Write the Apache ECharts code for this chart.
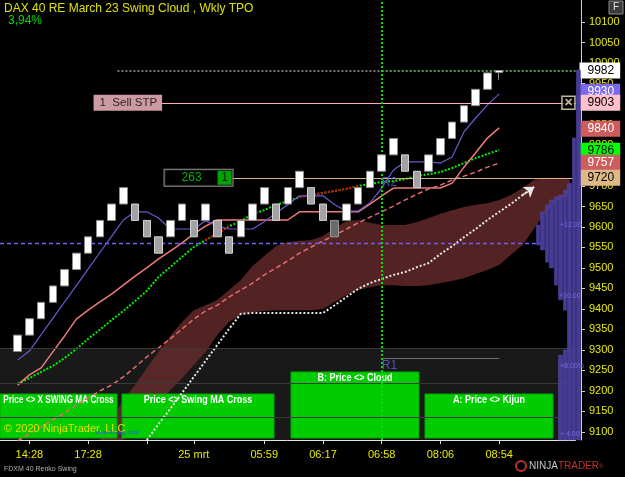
<!DOCTYPE html>
<html><head><meta charset="utf-8">
<script src="https://cdn.jsdelivr.net/npm/echarts@6/dist/echarts.min.js"></script>
<style>html,body{margin:0;padding:0;background:#000;}#c{width:625px;height:477px;}</style>
</head><body><div id="c"></div>
<script>
// ---------- data ----------
const brickOpen  = [9296,9336,9376,9416,9456,9496,9536,9576,9616,9656,9656,9616,9576,9576,9616,9616,9616,9616,9576,9576,9616,9656,9656,9656,9696,9696,9656,9616,9616,9656,9696,9736,9776,9776,9736,9736,9776,9816,9856,9896,9936];
const brickClose = [9336,9376,9416,9456,9496,9536,9576,9616,9656,9696,9616,9576,9536,9616,9656,9576,9656,9576,9536,9616,9656,9696,9616,9696,9736,9656,9616,9576,9656,9696,9736,9776,9816,9736,9696,9776,9816,9856,9896,9936,9976];
const currentBar = [9977, 9982, 9959, 9983]; // open, close, low, high
const tickBars   = [1, 6, 11, 15, 21, 26, 31, 36, 41];
const timeLabels = ['14:28', '17:28', '', '25 mrt', '05:59', '06:17', '06:58', '08:06', '08:54'];
const yTicks = [9100,9150,9200,9250,9300,9350,9400,9450,9500,9550,9600,9650,9700,9750,9800,9850,9900,9950,10000,10050,10100];

const kijunLine = [9275,9297,9337,9377,9417,9457,9497,9537,9577,9617,9637,9637,9622,9595,9595,9595,9615,9602,9595,9595,9595,9613,9634,9654,9676,9676,9676,9654,9639,9639,9659,9695,9739,9759,9759,9759,9756,9771,9832,9866,9898,9925];
const swingMA   = [9214,9239,9256,9295,9334,9375,9397,9417,9436,9458,9480,9500,9522,9541,9561,9583,9602,9617,9617,9617,9617,9617,9617,9617,9637,9637,9637,9637,9637,9637,9656,9676,9695,9695,9695,9695,9695,9707,9746,9781,9817,9842];
const swingDots = [9217,9231,9246,9261,9280,9302,9327,9349,9373,9395,9419,9444,9478,9502,9527,9551,9568,9583,9602,9614,9632,9641,9654,9663,9673,9678,9683,9688,9693,9700,9705,9710,9712,9717,9724,9729,9734,9744,9756,9768,9778,9788];
const redDotBars = [16,17,18,24,25,26,27,28,29];
const dashedMA  = [9078,9095,9112,9129,9146,9165,9182,9200,9214,9234,9258,9283,9305,9327,9351,9375,9395,9409,9429,9446,9463,9483,9500,9517,9536,9551,9566,9580,9595,9610,9624,9637,9651,9666,9680,9693,9702,9715,9724,9734,9746,9756];
const laggingStart = 11;
const laggingLine = [9080,9119,9156,9195,9234,9273,9312,9351,9388,9390,9390,9390,9390,9390,9390,9390,9409,9429,9449,9463,9473,9483,9490,9502,9512,9534,9553,9575,9595,9617,9637,9656,9678,9698];
const cloudStart = 7;
const cloudUpper = [9080,9129,9178,9214,9256,9295,9334,9368,9397,9409,9422,9446,9470,9505,9529,9553,9563,9566,9568,9578,9597,9614,9617,9610,9605,9605,9605,9612,9622,9632,9641,9649,9654,9658,9666,9678,9695,9715,9720,9720,9720];
const cloudLower = [9080,9080,9080,9104,9129,9165,9202,9231,9263,9295,9336,9368,9385,9392,9395,9397,9397,9397,9397,9400,9417,9434,9446,9453,9458,9458,9456,9456,9458,9463,9468,9475,9485,9495,9507,9532,9556,9597,9637,9666,9678];

const priceTags = [9930, 9982, 9903, 9840, 9786, 9757, 9720];
const lastPrice = 9982, sellStop = 9903, entryLevel = 9720, pocLevel = 9561, r1Level = 9280, r2Label = 9707, r1Label = 9261;
const bandLevels = [9304, 9219, 9136];
const tpoLow   = [9556,9544,9514,9500,9458,9422,9397,9080,9080,9080];
const tpoHigh  = [9605,9637,9654,9666,9673,9678,9690,9707,9817,9983];
const tpoLow2  = ['-','-','-','-','-',9080,9080,'-','-','-'];
const tpoHigh2 = ['-','-','-','-','-',9287,9300,'-','-','-'];

// ---------- styles / layout ----------
const yMin = 9080, yMax = 10154;
const nCats = 49;
const tagStyles = {
  9930: ['#7b68ee', '#ffffff'], 9982: ['#ffffff', '#000000'], 9903: ['#ffc0cb', '#000000'],
  9840: ['#cd5c5c', '#ffffff'], 9786: ['#00ff00', '#000000'], 9757: ['#cd5c5c', '#ffffff'], 9720: ['#deb887', '#000000']
};
const YEL = '#e8e800';
const FONT = 'Liberation Sans, Arial, sans-serif';

const cats = Array.from({length: nCats}, (_, k) => 'b' + (k - 1));
const labelAt = {}; tickBars.forEach((b, j) => { labelAt[b + 1] = timeLabels[j]; });

function place(arr, start) {
  const out = new Array(nCats).fill('-');
  arr.forEach((v, j) => { out[start + j + 1] = v; });
  return out;
}
const candleData = [['-','-','-','-']].concat(brickOpen.map((o, i) => {
  const c = brickClose[i];
  const item = { value: [o, c, Math.min(o, c), Math.max(o, c)] };
  if (i === 27) item.itemStyle = { color0: '#6a6a6a', borderColor0: '#9a9a9a' };
  return item;
})).concat([currentBar]);

const cloudDiff = cloudUpper.map((u, j) => u - cloudLower[j]);
const redDots = place(swingDots.map((v, i) => redDotBars.indexOf(i) >= 0 ? v : '-'), 0);
const lagK = laggingStart + laggingLine.length; // k index of last point
const centered = { align: 'center', verticalAlign: 'middle', textAlign: 'center', textVerticalAlign: 'middle' };
function panelText(text, x, y, sx) {
  return { type: 'text', x: x, y: y, scaleX: sx, z: 1.6,
    style: Object.assign({ text: text, fill: '#fff', font: 'bold 10px ' + FONT }, centered) };
}

const chart = echarts.init(document.getElementById('c'), null, {width: 625, height: 477});
const option = {
  backgroundColor: '#000',
  animation: false,
  textStyle: { fontFamily: FONT },
  grid: [
    { left: -2.7, right: 49.5, top: 0, bottom: 37 },
    { left: 535.5, right: 44, top: 0, bottom: 37 }
  ],
  xAxis: [
    { type: 'category', gridIndex: 0, data: cats, boundaryGap: true,
      axisLine: { onZero: false, lineStyle: { color: '#e6e6e6', width: 1 } },
      axisTick: { show: true, alignWithLabel: true, length: 4, interval: (idx) => labelAt[idx] !== undefined, lineStyle: { color: '#e6e6e6' } },
      axisLabel: { interval: 0, color: YEL, fontSize: 11, margin: 9, formatter: (v, idx) => labelAt[idx] || '' },
      splitLine: { show: false } },
    { type: 'value', gridIndex: 0, min: -1.5, max: 47.5, show: false, axisLine: { onZero: false } },
    { type: 'category', gridIndex: 1, data: ['t0','t1','t2','t3','t4','t5','t6','t7','t8','t9'], show: false }
  ],
  yAxis: [
    { type: 'value', gridIndex: 0, position: 'right', offset: 5.5, min: yMin, max: yMax,
      axisLine: { show: true, onZero: false, lineStyle: { color: '#d8d0c0' } },
      axisTick: { show: true, customValues: yTicks, length: 4, lineStyle: { color: '#d8d0c0' } },
      axisLabel: { customValues: yTicks, color: YEL, fontSize: 11, margin: 8, formatter: (v) => String(v) },
      splitLine: { show: false } },
    { type: 'value', gridIndex: 1, min: yMin, max: yMax, show: false, axisLine: { onZero: false } }
  ],
  series: [
    // background bands
    { type: 'line', xAxisIndex: 1, yAxisIndex: 0, data: [], z: 0,
      markArea: { silent: true, itemStyle: { color: '#191919' }, data: [[{ yAxis: bandLevels[0] }, { yAxis: yMin }]] },
      markLine: { silent: true, symbol: 'none', label: { show: false }, lineStyle: { color: '#3a3a3a', width: 1, type: 'solid' },
        data: bandLevels.map(v => ({ yAxis: v })) } },
    // cloud
    { type: 'line', xAxisIndex: 0, yAxisIndex: 0, data: place(cloudLower, cloudStart), stack: 'cloud', symbol: 'none', lineStyle: { opacity: 0 }, z: 1 },
    { type: 'line', xAxisIndex: 0, yAxisIndex: 0, data: place(cloudDiff, cloudStart), stack: 'cloud', symbol: 'none', lineStyle: { opacity: 0 },
      areaStyle: { color: 'rgba(104,44,44,0.8)', opacity: 1 }, z: 1 },
    // horizontal / vertical level lines
    { type: 'line', xAxisIndex: 1, yAxisIndex: 0, data: [], z: 2,
      markLine: { silent: true, symbol: 'none', label: { show: false },
        data: [
          [{ coord: [-1.5, pocLevel], lineStyle: { color: '#6f5ff0', width: 1.3, type: [4, 3] } }, { coord: [45, pocLevel] }],
          [{ coord: [8.5, lastPrice], lineStyle: { color: '#9a9a9a', width: 1.5, type: [2, 2] } }, { coord: [31, lastPrice] }],
          [{ coord: [31, lastPrice], lineStyle: { color: '#7ad07a', width: 1.5, type: [2, 2] } }, { coord: [47.5, lastPrice] }],
          [{ coord: [12.3, sellStop], lineStyle: { color: '#ffb0bc', width: 1.2, type: 'solid' } }, { coord: [47.5, sellStop] }],
          [{ coord: [18.3, entryLevel], lineStyle: { color: '#d2b48c', width: 1.2, type: 'solid' } }, { coord: [47.5, entryLevel] }],
          [{ coord: [31, r1Level], lineStyle: { color: '#6e6e6e', width: 1, type: 'solid' } }, { coord: [41, r1Level] }],
          { xAxis: 31, lineStyle: { color: '#00e000', width: 2, type: [2, 2] } }
        ] } },
    // indicator lines
    { name: 'Swing dots', type: 'line', xAxisIndex: 0, yAxisIndex: 0, data: place(swingDots, 0), symbol: 'none',
      lineStyle: { color: '#00f000', width: 2, type: [2, 1.6] }, z: 3 },
    { name: 'Swing dots red', type: 'line', xAxisIndex: 0, yAxisIndex: 0, data: redDots, symbol: 'none',
      lineStyle: { color: '#e00000', width: 2, type: [2, 1.6] }, z: 3 },
    { name: 'Dashed MA', type: 'line', xAxisIndex: 0, yAxisIndex: 0, data: place(dashedMA, 0), symbol: 'none',
      lineStyle: { color: '#e36c6c', width: 1.5, type: [5, 3] }, z: 3 },
    { name: 'Swing MA', type: 'line', xAxisIndex: 0, yAxisIndex: 0, data: place(swingMA, 0), symbol: 'none',
      lineStyle: { color: '#f07a7a', width: 1.5 }, z: 3 },
    { name: 'Kijun', type: 'line', xAxisIndex: 0, yAxisIndex: 0, data: place(kijunLine, 0), symbol: 'none',
      lineStyle: { color: '#6a5acd', width: 1.2 }, z: 3 },
    { name: 'Lagging', type: 'line', xAxisIndex: 0, yAxisIndex: 0, data: place(laggingLine, laggingStart), symbol: 'none',
      lineStyle: { color: '#e8e8e8', width: 2, type: [2, 2] }, z: 3,
      markLine: { silent: true, symbol: ['none', 'arrow'], symbolSize: 10, label: { show: false },
        lineStyle: { color: '#e8e8e8', width: 2, type: [2, 2] },
        data: [[{ coord: [lagK - 1, laggingLine[laggingLine.length - 2]] }, { coord: [lagK, laggingLine[laggingLine.length - 1]] }]] } },
    // renko bricks
    { name: 'Renko', type: 'candlestick', xAxisIndex: 0, yAxisIndex: 0, data: candleData, barWidth: 8, z: 5,
      itemStyle: { color: '#ffffff', color0: '#a2a2a2', borderColor: '#8a8a8a', borderColor0: '#d4d4d4', borderWidth: 1 } },
    // annotations
    { type: 'scatter', xAxisIndex: 1, yAxisIndex: 0, symbolSize: 0, z: 8, silent: true,
      data: [
        { value: [12.3, sellStop], label: { show: true, position: 'left', distance: 0, formatter: '1  Sell STP',
          backgroundColor: '#ffc0cb', color: '#000', padding: [2, 5, 2, 6], fontSize: 11.5 } },
        { value: [18.3, entryLevel], label: { show: true, position: 'left', distance: 0, formatter: '{a|263}{b|1}',
          backgroundColor: '#000', borderColor: '#b8b8b8', borderWidth: 1, padding: [1, 1, 1, 1],
          rich: { a: { width: 52, height: 14, align: 'center', color: '#00e000', fontSize: 12 },
                  b: { width: 14, height: 14, align: 'center', color: '#000', backgroundColor: '#00cc00', fontSize: 12 } } } },
        { value: [31, r2Label], label: { show: true, position: 'right', distance: 0, formatter: 'R2', color: '#6060e0', fontSize: 12 } },
        { value: [31, r1Label], label: { show: true, position: 'right', distance: 0, formatter: 'R1', color: '#6060e0', fontSize: 12 } }
      ] },
    { type: 'scatter', xAxisIndex: 1, yAxisIndex: 0, z: 8, silent: true, symbol: 'rect', symbolSize: 13,
      itemStyle: { color: '#000', borderColor: '#f2e6c4', borderWidth: 1.5 },
      label: { show: true, position: 'inside', formatter: '✕', color: '#f2e6c4', fontSize: 11, fontWeight: 'bold' },
      data: [[46.9, sellStop]] },
    // TPO profile
    { type: 'candlestick', xAxisIndex: 2, yAxisIndex: 1, barWidth: 4, z: 6,
      itemStyle: { color: '#463c96', color0: '#463c96', borderColor: '#5448b0', borderColor0: '#5448b0', borderWidth: 0.5 },
      data: tpoLow.map((lo, j) => [lo, tpoHigh[j], lo, tpoHigh[j]]) },
    { type: 'candlestick', xAxisIndex: 2, yAxisIndex: 1, barWidth: 4, z: 6,
      itemStyle: { color: '#463c96', color0: '#463c96', borderColor: '#5448b0', borderColor0: '#5448b0', borderWidth: 0.5 },
      data: tpoLow2.map((lo, j) => lo === '-' ? ['-','-','-','-'] : [lo, tpoHigh2[j], lo, tpoHigh2[j]]) },
    // price tags on axis
    { type: 'line', xAxisIndex: 1, yAxisIndex: 0, data: [], z: 12,
      markLine: { silent: true, symbol: 'none', lineStyle: { width: 0, color: 'rgba(0,0,0,0)' },
        data: priceTags.map(v => ({ yAxis: v, label: { show: true, position: 'end', distance: 4, formatter: String(v),
          backgroundColor: tagStyles[v][0], color: tagStyles[v][1], padding: [1, 6, 1, 8], fontSize: 12, lineHeight: 14 } })) } }
  ],
  graphic: [
    { type: 'text', left: 4, top: 3, z: 20, style: { text: 'DAX 40 RE March 23 Swing Cloud , Wkly TPO', fill: '#e0e000', font: '12px ' + FONT } },
    { type: 'text', left: 8, top: 15, z: 20, style: { text: '3,94%', fill: '#00dd00', font: '12px ' + FONT } },
    { type: 'rect', shape: { x: 609, y: 1, width: 14, height: 13 }, z: 20, style: { fill: '#3a3a3a', stroke: '#8a8a8a', lineWidth: 1 } },
    { type: 'text', x: 616, y: 7.5, z: 21, style: Object.assign({ text: 'F', fill: '#e0e0e0', font: '10px ' + FONT }, centered) },
    // alert panels
    { type: 'rect', shape: { x: 0, y: 394, width: 117, height: 44 }, z: 1.5, style: { fill: '#00cc00', stroke: '#00a800', lineWidth: 1 } },
    { type: 'rect', shape: { x: 122, y: 394, width: 152, height: 44 }, z: 1.5, style: { fill: '#00cc00', stroke: '#00a800', lineWidth: 1 } },
    { type: 'rect', shape: { x: 291, y: 372, width: 128, height: 66 }, z: 1.5, style: { fill: '#00cc00', stroke: '#00a800', lineWidth: 1 } },
    { type: 'rect', shape: { x: 425, y: 394, width: 128, height: 44 }, z: 1.5, style: { fill: '#00cc00', stroke: '#00a800', lineWidth: 1 } },
    panelText('Price <> X SWING MA Cross', 58.5, 400, 0.82),
    panelText('Price <> Swing MA Cross', 198, 400, 0.9),
    panelText('B: Price <> Cloud', 355, 378, 0.9),
    panelText('A: Price <> Kijun', 489, 400, 0.9),
    { type: 'text', left: 4, top: 423, z: 20, style: { text: '© 2020 NinjaTrader, LLC', fill: '#e0e000', font: '11px ' + FONT } },
    { type: 'text', left: 95, top: 429, z: 20, style: { text: 'www.fin-alg.com', fill: '#3050e0', font: '6px ' + FONT } },
    { type: 'text', left: 4, top: 466, z: 20, style: { text: 'FDXM 40 Renko Swing', fill: '#b0b0b0', font: '7px ' + FONT } },
    // TPO labels
    { type: 'text', left: 560, top: 222, z: 20, style: { text: '+12.00', fill: '#7a6ae0', font: '7px ' + FONT } },
    { type: 'text', left: 559, top: 293, z: 20, style: { text: '+10.00', fill: '#7a6ae0', font: '7px ' + FONT } },
    { type: 'text', left: 560, top: 363, z: 20, style: { text: '+8.00%', fill: '#7a6ae0', font: '7px ' + FONT } },
    { type: 'text', left: 560, top: 431, z: 20, style: { text: '+ 4.00', fill: '#7a6ae0', font: '7px ' + FONT } },
    // logo
    { type: 'circle', shape: { cx: 521, cy: 466, r: 5 }, z: 20, style: { fill: 'none', stroke: '#c03030', lineWidth: 2 } },
    { type: 'text', left: 529, top: 461, z: 20, style: { text: '{n|NINJA}{t|TRADER}{r|®}', font: '10px ' + FONT,
      rich: { n: { fill: '#c8c8c8', font: '10px ' + FONT }, t: { fill: '#c83030', font: '10px ' + FONT }, r: { fill: '#c83030', font: '6px ' + FONT } } } }
  ]
};
chart.setOption(option);
</script>
</body></html>
